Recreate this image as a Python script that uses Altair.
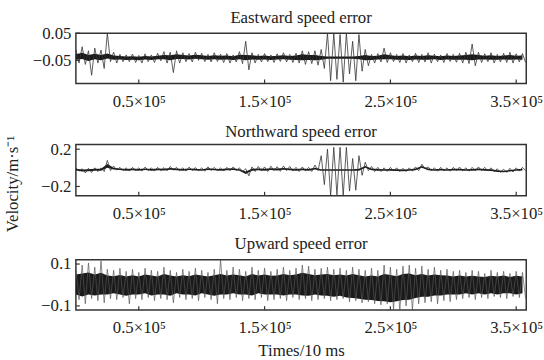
import altair as alt
import pandas as pd

# ---- data ----
sample_step = 5000  # Times/10 ms between envelope samples

east_hi = [-0.010, -0.000, -0.015, -0.005, -0.012, 0.050, -0.020, -0.028,
           -0.030, -0.027, -0.032, -0.026, -0.030, -0.024, -0.018, -0.020,
           -0.015, -0.022, -0.025, -0.020, -0.024, -0.028, -0.022, -0.027,
           -0.025, -0.030, -0.018, 0.020, -0.022, -0.028, -0.025, -0.030,
           -0.026, -0.022, -0.028, -0.024, -0.015, -0.018, -0.015, -0.010,
           0.050, 0.050, 0.045, 0.050, 0.020, 0.045, -0.010, -0.028,
           -0.025, -0.005, -0.022, -0.028, -0.025, -0.030, -0.024, -0.028,
           -0.022, -0.027, -0.030, -0.025, -0.028, -0.024, -0.020, 0.010,
           -0.020, -0.026, -0.022, -0.028, -0.024, -0.020, -0.026, -0.025]
east_lo = [-0.060, -0.065, -0.105, -0.060, -0.080, -0.055, -0.060, -0.055,
           -0.055, -0.058, -0.060, -0.055, -0.058, -0.052, -0.060, -0.095,
           -0.060, -0.055, -0.056, -0.050, -0.055, -0.056, -0.054, -0.058,
           -0.060, -0.056, -0.062, -0.085, -0.060, -0.056, -0.055, -0.058,
           -0.054, -0.056, -0.058, -0.060, -0.065, -0.062, -0.068, -0.080,
           -0.125, -0.120, -0.130, -0.100, -0.125, -0.090, -0.070, -0.060,
           -0.056, -0.058, -0.055, -0.058, -0.060, -0.055, -0.058, -0.056,
           -0.060, -0.055, -0.058, -0.054, -0.057, -0.060, -0.062, -0.070,
           -0.058, -0.055, -0.060, -0.056, -0.058, -0.060, -0.056, -0.058]
east_core_hi = [-0.028, -0.022, -0.030, -0.026, -0.030, -0.025, -0.032, -0.034,
                -0.036, -0.035, -0.037, -0.034, -0.036, -0.033, -0.030, -0.031,
                -0.028, -0.030, -0.032, -0.029, -0.031, -0.034, -0.031, -0.033,
                -0.032, -0.035, -0.029, -0.030, -0.031, -0.034, -0.032, -0.035,
                -0.033, -0.031, -0.034, -0.032, -0.028, -0.030, -0.030, -0.034,
                -0.036, -0.036, -0.036, -0.036, -0.036, -0.034, -0.030, -0.034,
                -0.033, -0.028, -0.031, -0.034, -0.032, -0.035, -0.032, -0.034,
                -0.031, -0.033, -0.035, -0.032, -0.034, -0.032, -0.030, -0.028,
                -0.030, -0.033, -0.031, -0.034, -0.032, -0.030, -0.033, -0.032]
east_core_lo = [-0.048, -0.045, -0.052, -0.046, -0.050, -0.043, -0.048, -0.047,
                -0.049, -0.048, -0.050, -0.047, -0.049, -0.046, -0.046, -0.050,
                -0.045, -0.045, -0.047, -0.044, -0.046, -0.048, -0.046, -0.048,
                -0.047, -0.049, -0.046, -0.050, -0.047, -0.048, -0.047, -0.049,
                -0.047, -0.046, -0.048, -0.049, -0.050, -0.049, -0.050, -0.048,
                -0.044, -0.044, -0.044, -0.044, -0.044, -0.046, -0.050, -0.049,
                -0.047, -0.046, -0.046, -0.048, -0.048, -0.049, -0.047, -0.048,
                -0.048, -0.046, -0.049, -0.047, -0.048, -0.048, -0.048, -0.050,
                -0.047, -0.047, -0.048, -0.048, -0.047, -0.048, -0.047, -0.048]

north_hi = [0.000, -0.010, -0.005, 0.000, 0.000, 0.080, 0.020, 0.005,
            0.000, 0.005, 0.000, 0.008, 0.000, 0.005, 0.002, 0.015,
            0.005, 0.000, 0.008, 0.003, 0.000, 0.010, 0.005, 0.000,
            0.005, 0.010, 0.000, -0.010, 0.010, 0.015, 0.010, 0.018,
            0.012, 0.020, 0.015, 0.005, 0.010, 0.005, 0.030, 0.130,
            0.200, 0.220, 0.220, 0.220, 0.100, 0.130, 0.060, 0.015,
            0.005, 0.000, 0.005, 0.000, -0.005, 0.000, 0.010, 0.038,
            0.010, 0.000, 0.005, 0.000, 0.005, 0.008, 0.000, 0.005,
            0.010, 0.005, 0.000, -0.010, -0.015, -0.005, 0.000, 0.005]
north_lo = [-0.035, -0.055, -0.050, -0.040, -0.040, -0.030, -0.025, -0.030,
            -0.035, -0.030, -0.035, -0.028, -0.035, -0.030, -0.032, -0.025,
            -0.030, -0.035, -0.028, -0.032, -0.036, -0.028, -0.032, -0.035,
            -0.030, -0.028, -0.040, -0.085, -0.040, -0.035, -0.040, -0.030,
            -0.038, -0.030, -0.035, -0.040, -0.035, -0.040, -0.030, -0.180,
            -0.300, -0.290, -0.300, -0.250, -0.240, -0.080, -0.030, -0.040,
            -0.040, -0.038, -0.035, -0.040, -0.040, -0.036, -0.030, -0.010,
            -0.030, -0.036, -0.032, -0.036, -0.030, -0.032, -0.036, -0.034,
            -0.030, -0.034, -0.040, -0.048, -0.050, -0.045, -0.035, -0.030]
north_core_hi = [-0.010, -0.018, -0.015, -0.010, -0.010, 0.040, 0.000, -0.008,
                 -0.012, -0.008, -0.012, -0.006, -0.012, -0.008, -0.010, -0.002,
                 -0.008, -0.012, -0.006, -0.010, -0.014, -0.005, -0.009, -0.012,
                 -0.008, -0.004, -0.014, -0.040, -0.010, -0.006, -0.010, -0.004,
                 -0.008, -0.002, -0.006, -0.012, -0.008, -0.012, 0.000, -0.015,
                 -0.015, -0.015, -0.015, -0.015, -0.015, -0.010, 0.020, -0.008,
                 -0.012, -0.014, -0.012, -0.016, -0.018, -0.014, -0.008, 0.020,
                 -0.008, -0.014, -0.010, -0.014, -0.010, -0.010, -0.014, -0.012,
                 -0.008, -0.012, -0.016, -0.026, -0.030, -0.022, -0.014, -0.010]
north_core_lo = [-0.028, -0.040, -0.036, -0.030, -0.030, 0.000, -0.018, -0.024,
                 -0.030, -0.026, -0.030, -0.024, -0.030, -0.026, -0.028, -0.020,
                 -0.026, -0.030, -0.024, -0.028, -0.032, -0.023, -0.027, -0.030,
                 -0.026, -0.022, -0.032, -0.065, -0.030, -0.026, -0.030, -0.022,
                 -0.028, -0.020, -0.026, -0.030, -0.026, -0.030, -0.018, -0.030,
                 -0.030, -0.030, -0.030, -0.030, -0.030, -0.030, 0.000, -0.026,
                 -0.030, -0.032, -0.030, -0.034, -0.036, -0.032, -0.026, 0.000,
                 -0.026, -0.032, -0.028, -0.032, -0.028, -0.028, -0.032, -0.030,
                 -0.026, -0.030, -0.034, -0.044, -0.048, -0.040, -0.032, -0.028]

up_hi = [0.080, 0.095, 0.105, 0.085, 0.115, 0.075, 0.070, 0.080,
         0.065, 0.075, 0.060, 0.080, 0.070, 0.065, 0.085, 0.070,
         0.060, 0.075, 0.065, 0.080, 0.070, 0.060, 0.075, 0.120,
         0.070, 0.085, 0.075, 0.065, 0.085, 0.070, 0.080, 0.065,
         0.075, 0.085, 0.070, 0.080, 0.095, 0.090, 0.075, 0.080,
         0.085, 0.075, 0.080, 0.070, 0.085, 0.075, 0.070, 0.080,
         0.070, 0.095, 0.085, 0.075, 0.090, 0.095, 0.080, 0.090,
         0.075, 0.085, 0.070, 0.075, 0.065, 0.070, 0.060, 0.070,
         0.065, 0.055, 0.070, 0.060, 0.065, 0.055, 0.065, 0.060]
up_lo = [-0.070, -0.090, -0.065, -0.075, -0.085, -0.065, -0.070, -0.060,
         -0.090, -0.065, -0.070, -0.060, -0.075, -0.065, -0.070, -0.085,
         -0.060, -0.070, -0.065, -0.075, -0.060, -0.070, -0.090, -0.065,
         -0.070, -0.060, -0.075, -0.065, -0.070, -0.060, -0.075, -0.070,
         -0.065, -0.075, -0.060, -0.070, -0.065, -0.075, -0.070, -0.065,
         -0.075, -0.070, -0.065, -0.080, -0.075, -0.085, -0.080, -0.090,
         -0.095, -0.090, -0.115, -0.120, -0.100, -0.118, -0.090, -0.085,
         -0.080, -0.090, -0.075, -0.080, -0.070, -0.065, -0.060, -0.070,
         -0.060, -0.065, -0.055, -0.060, -0.065, -0.055, -0.060, -0.065]
up_core_hi = [0.050, 0.055, 0.060, 0.050, 0.058, 0.045, 0.042, 0.048,
              0.040, 0.046, 0.040, 0.050, 0.045, 0.040, 0.052, 0.045,
              0.040, 0.046, 0.042, 0.050, 0.045, 0.040, 0.046, 0.052,
              0.045, 0.050, 0.046, 0.040, 0.052, 0.045, 0.050, 0.044,
              0.045, 0.052, 0.046, 0.050, 0.058, 0.052, 0.046, 0.050,
              0.052, 0.046, 0.050, 0.045, 0.052, 0.046, 0.040, 0.045,
              0.040, 0.052, 0.048, 0.042, 0.052, 0.055, 0.046, 0.052,
              0.045, 0.050, 0.046, 0.045, 0.040, 0.045, 0.040, 0.044,
              0.040, 0.038, 0.044, 0.040, 0.045, 0.038, 0.044, 0.040]
up_core_lo = [-0.045, -0.055, -0.046, -0.050, -0.046, -0.045, -0.040, -0.046,
              -0.052, -0.045, -0.046, -0.040, -0.050, -0.045, -0.046, -0.052,
              -0.040, -0.046, -0.045, -0.050, -0.040, -0.046, -0.052, -0.045,
              -0.046, -0.040, -0.046, -0.045, -0.050, -0.040, -0.046, -0.045,
              -0.046, -0.050, -0.045, -0.046, -0.050, -0.052, -0.046, -0.050,
              -0.052, -0.056, -0.052, -0.060, -0.062, -0.066, -0.070, -0.072,
              -0.076, -0.078, -0.082, -0.078, -0.072, -0.070, -0.062, -0.056,
              -0.056, -0.050, -0.050, -0.046, -0.045, -0.046, -0.040, -0.045,
              -0.040, -0.045, -0.040, -0.045, -0.040, -0.040, -0.045, -0.040]

x_ticks = [50000, 150000, 250000, 350000]
x_domain = [0, 358000]

titles = ["Eastward speed error", "Northward speed error", "Upward speed error"]
y_title = "Velocity/m·s⁻¹"
x_title = "Times/10 ms"
y_domains = [[-0.135, 0.05], [-0.3, 0.25], [-0.12, 0.12]]
y_ticks = [[0.05, -0.05], [0.2, -0.2], [0.1, -0.1]]
y_formats = [".2f", ".1f", ".1f"]

FONT = "Liberation Serif"
W = 457
HEIGHTS = [51, 52, 51]
TITLE_OFFSETS = [-3, -1, 2]
INK = "#1a1a1a"
TXT = "#222"


def zigzag(hi, lo):
    rows = []
    for i, (h, l) in enumerate(zip(hi, lo)):
        rows.append({"t": i * sample_step, "v": h})
        rows.append({"t": i * sample_step + sample_step / 2, "v": l})
    return pd.DataFrame(rows)


def panel(k, hi, lo, core, xtitle=False, spike_color="#333", spike_w=0.8):
    H = HEIGHTS[k]
    xs = alt.Scale(domain=x_domain, nice=False, zero=False)
    ys = alt.Scale(domain=y_domains[k], nice=False, zero=False)
    xaxis = alt.Axis(values=x_ticks, tickSize=0, labelPadding=10, domain=False, grid=False,
                     labelFont=FONT, labelFontSize=17, labelColor=TXT,
                     labelExpr="format(datum.value/100000, '.1f') + '×10⁵'",
                     title=x_title if xtitle else None,
                     titleFont=FONT, titleFontSize=17, titleFontWeight="normal",
                     titleColor=TXT, titlePadding=7)
    yaxis = alt.Axis(values=y_ticks[k], format=y_formats[k], tickSize=0, labelPadding=5,
                     domain=False, grid=False, labelFont=FONT, labelFontSize=17,
                     labelColor=TXT, title=None)

    cdf = pd.DataFrame({"t": [i * sample_step for i in range(len(core[0]))],
                        "h": core[0], "l": core[1]})
    core_layer = alt.Chart(cdf).mark_area(color=INK, clip=True).encode(
        x=alt.X("t:Q", scale=xs, axis=xaxis),
        y=alt.Y("h:Q", scale=ys, axis=yaxis),
        y2="l:Q")
    zz = zigzag(hi, lo)
    line_layer = alt.Chart(zz).mark_line(color=spike_color, strokeWidth=spike_w, clip=True).encode(
        x=alt.X("t:Q", scale=xs, axis=xaxis),
        y=alt.Y("v:Q", scale=ys, axis=yaxis))
    xt = pd.DataFrame({"t": x_ticks})
    xtick_layer = alt.Chart(xt).mark_rule(color="#333", strokeWidth=1.2).encode(
        x=alt.X("t:Q", scale=xs, axis=xaxis), y=alt.value(H), y2=alt.value(H - 4))
    yt = pd.DataFrame({"v": y_ticks[k]})
    ytick_layer = alt.Chart(yt).mark_rule(color="#333", strokeWidth=1.2).encode(
        y=alt.Y("v:Q", scale=ys, axis=yaxis), x=alt.value(0), x2=alt.value(4))
    return alt.layer(core_layer, line_layer, xtick_layer, ytick_layer).properties(
        width=W, height=H,
        title=alt.TitleParams(titles[k], font=FONT, fontSize=17, fontWeight="normal",
                              color=TXT, offset=TITLE_OFFSETS[k], anchor="middle",
                              frame="group"))


p1 = panel(0, east_hi, east_lo, (east_core_hi, east_core_lo))
p2 = panel(1, north_hi, north_lo, (north_core_hi, north_core_lo))
p3 = panel(2, up_hi, up_lo, (up_core_hi, up_core_lo), xtitle=True,
           spike_color="#555", spike_w=0.7)

chart = alt.vconcat(p1, p2, p3, spacing=12).properties(
    title=alt.TitleParams(y_title, orient="left", anchor="middle", font=FONT,
                          fontSize=17, fontWeight="normal", color=TXT, offset=10),
    padding={"left": 3, "top": 6, "right": 0, "bottom": 0}
).configure(background="white").configure_view(
    stroke="#333", strokeWidth=1.5
).configure_axis(labelFont=FONT, titleFont=FONT)

chart.save("out.html", embed_options={"renderer": "svg", "actions": False})
